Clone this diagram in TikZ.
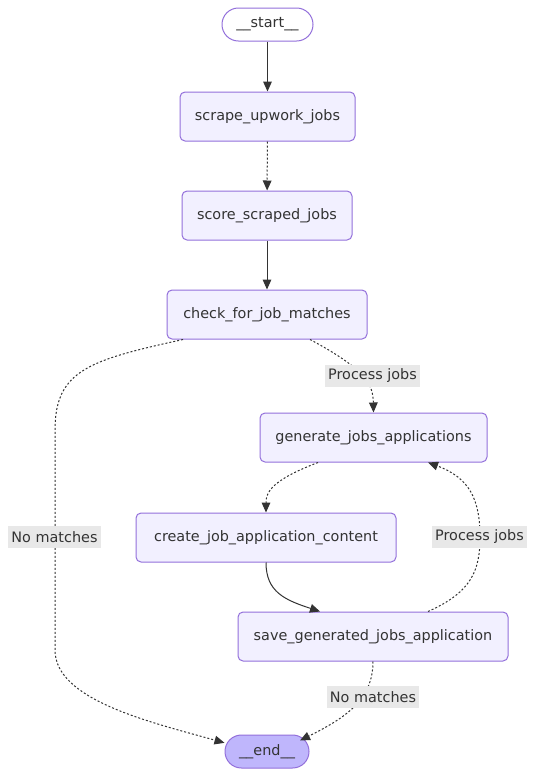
\documentclass[tikz,border=0pt]{standalone}
\usepackage{fontspec}
\setmainfont{DejaVu Sans}
\usetikzlibrary{arrows.meta}
\definecolor{nodefill}{HTML}{F2F0FF}
\definecolor{nodeline}{HTML}{9370DB}
\definecolor{endfill}{HTML}{BFB6FC}
\definecolor{edgecol}{HTML}{333333}
\definecolor{labfill}{HTML}{E8E8E8}
\begin{document}
\begin{tikzpicture}[x=0.75pt,y=-0.75pt,
  font=\fontsize{10.8pt}{13pt}\selectfont,
  box/.style={draw=nodeline,fill=nodefill,line width=0.75pt,rounded corners=3.75pt,
    minimum height=36.75pt,inner sep=0pt,text=edgecol},
  term/.style={draw=nodeline,line width=0.75pt,rounded corners=12.3pt,
    minimum height=24.75pt,inner sep=0pt,text=edgecol},
  lab/.style={fill=labfill,inner sep=0pt,minimum height=17pt,text=edgecol},
  edge/.style={draw=edgecol,line width=0.75pt,-{Triangle[length=7.5pt,width=6.5pt]}},
  dot/.style={edge,dash pattern=on 1.5pt off 1.5pt},
]
\useasboundingbox[fill=white] (0,0) rectangle (536,778);

\node[term,fill=white,minimum width=68.25pt] (start) at (267.5,24.5) {\_\_start\_\_};
\node[box,minimum width=131.25pt] (scrape) at (267.5,116.5) {scrape\_upwork\_jobs};
\node[box,minimum width=127.5pt] (score) at (267,215.5) {score\_scraped\_jobs};
\node[box,minimum width=150pt] (check) at (267,314.5) {check\_for\_job\_matches};
\node[box,minimum width=170.25pt] (gen) at (373.5,437.5) {generate\_jobs\_applications};
\node[box,minimum width=195pt] (create) at (266,537.5) {create\_job\_application\_content};
\node[box,minimum width=202.5pt] (save) at (373,636.5) {save\_generated\_jobs\_application};
\node[term,fill=endfill,minimum width=63pt] (end) at (267,751.5) {\_\_end\_\_};

\draw[edge] (start) -- (scrape);
\draw[dot] (scrape) -- (score);
\draw[edge] (score) -- (check);

\draw[dot] ([xshift=32.25pt]check.south) .. controls (367,370) and (373,385) .. (gen.north);
\draw[dot] ([xshift=-63pt]check.south) .. controls (90,360) and (55,370) .. (55,430)
  -- (55,650) .. controls (55,700) and (150,722) .. ([yshift=6.5pt]end.west);
\draw[dot] ([xshift=-41.6pt]gen.south) .. controls (272,480) and (266,492) .. (create.north);
\draw[edge] (create.south) .. controls (266,592) and (285,600) .. ([xshift=-39.75pt]save.north);
\draw[dot] ([xshift=41.25pt]save.north) .. controls (472,592) and (480,570) .. (480,537)
  .. controls (480,500) and (470,478) .. ([xshift=40.9pt]gen.south);
\draw[dot] (save.south) .. controls (373,700) and (345,718) .. ([xshift=24.75pt,yshift=-4.5pt]end.north);

\node[lab,minimum width=71.25pt] (l1) at (372.5,376) {Process jobs};
\node[lab,minimum width=69.75pt] (l2) at (54.5,537) {No matches};
\node[lab,minimum width=71.25pt] (l3) at (479.5,537) {Process jobs};
\node[lab,minimum width=69pt] (l4) at (373,697) {No matches};
\end{tikzpicture}
\end{document}
